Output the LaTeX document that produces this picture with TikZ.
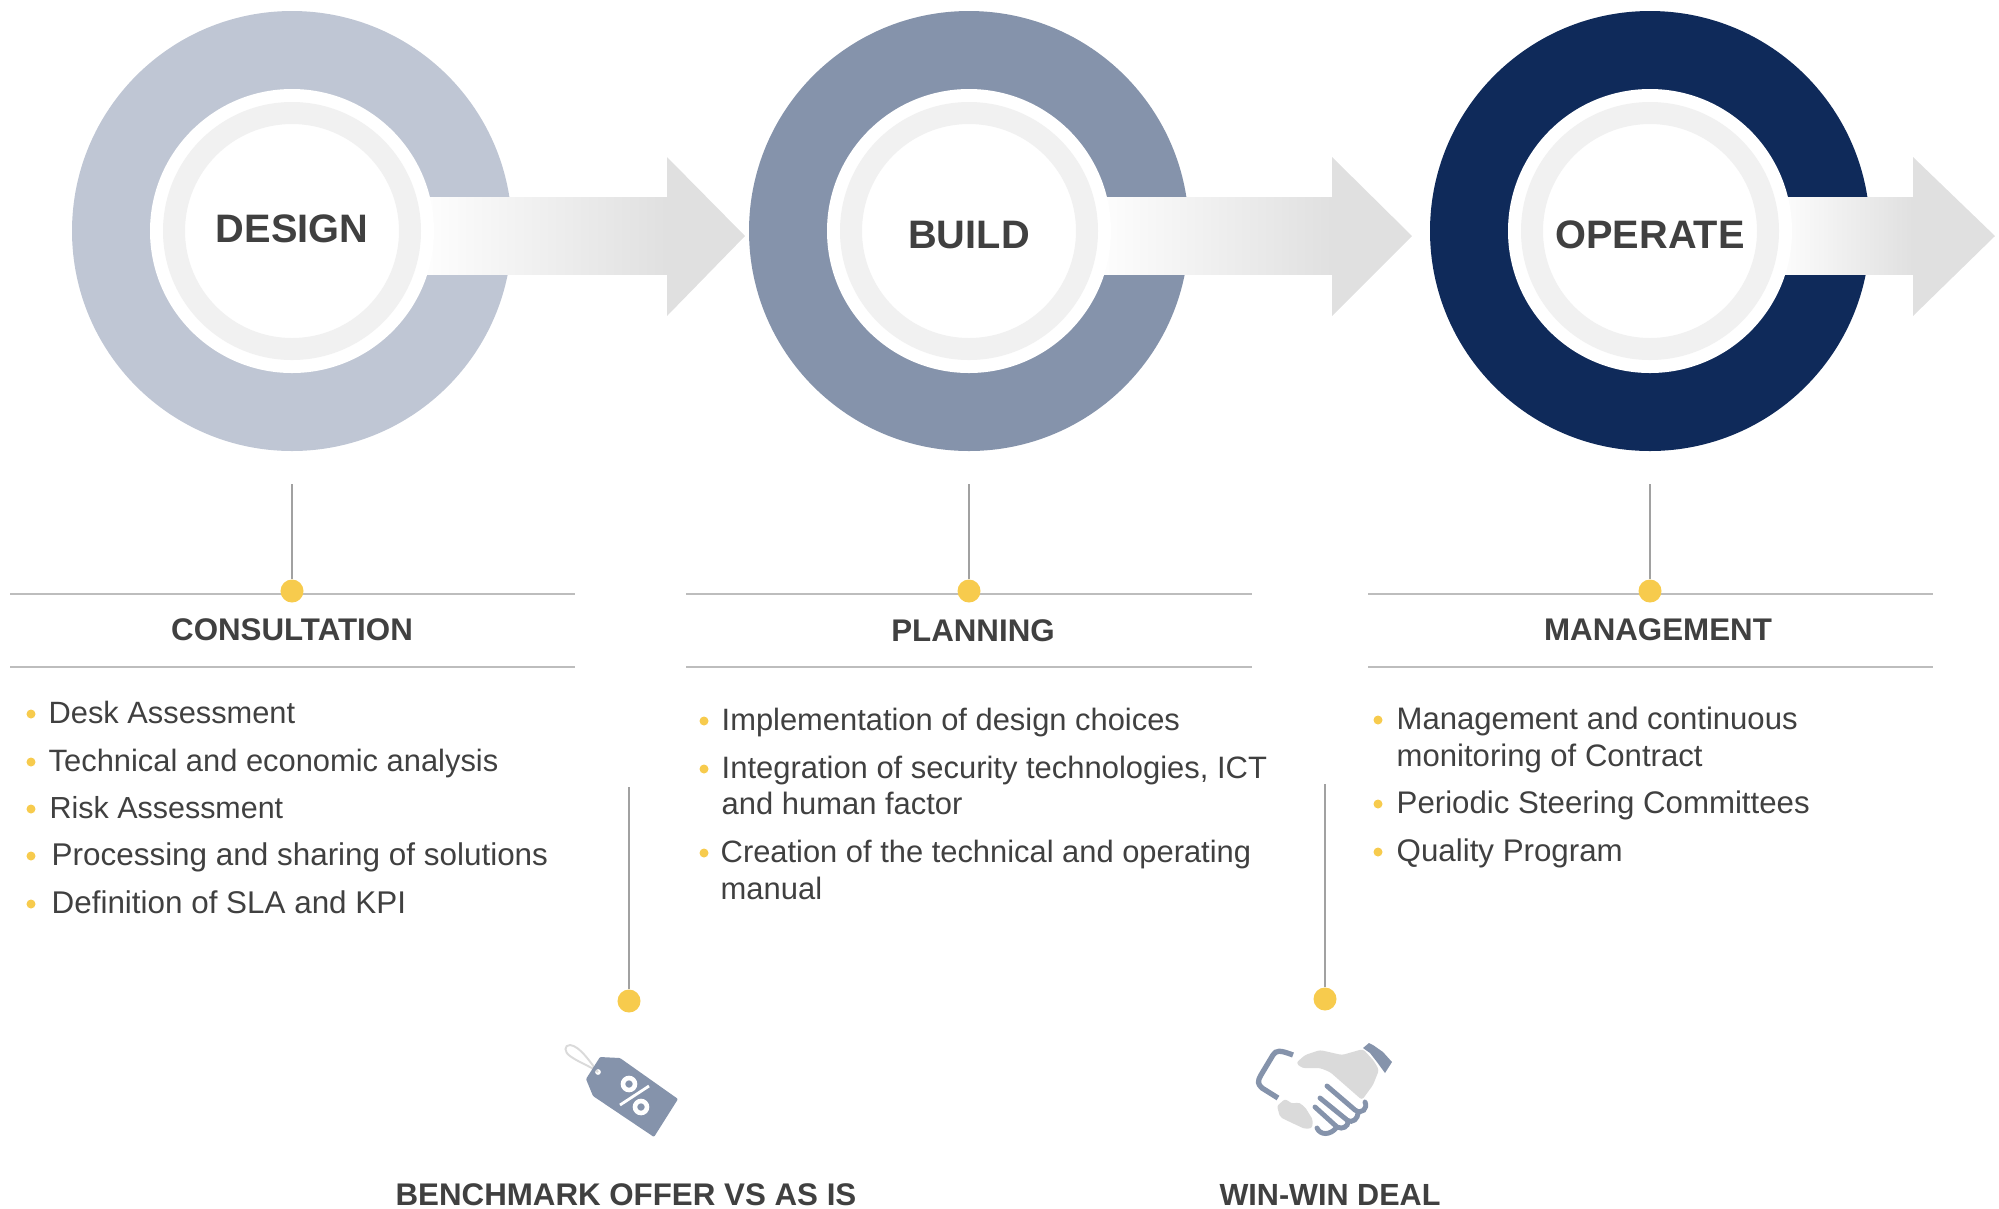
\documentclass[tikz,border=0pt]{standalone}
\usepackage{fontspec}
\setmainfont{Liberation Sans}
\definecolor{ringa}{HTML}{BFC6D4}
\definecolor{ringb}{HTML}{8593AB}
\definecolor{ringc}{HTML}{0F2A5A}
\definecolor{gold}{HTML}{F7CB4D}
\definecolor{ink}{HTML}{404040}
\definecolor{arrowgray}{HTML}{E0E0E0}
\definecolor{softgray}{HTML}{F1F1F1}
\definecolor{rulegray}{HTML}{BDBDBD}
\definecolor{iconblue}{HTML}{8593AB}
\definecolor{icongray}{HTML}{DADADA}
\tikzset{
 stagetext/.style={font=\fontsize{11.3}{13}\selectfont\bfseries, text=ink, inner sep=0pt},
 headtext/.style={font=\fontsize{8.9}{10}\selectfont\bfseries, text=ink, inner sep=0pt},
 itemtext/.style={text=ink, inner sep=0pt, anchor=west, text height=.72em, text depth=.2em},
 golddot/.style={circle, fill=gold, inner sep=0pt, minimum size=.23cm},
 itemdot/.style={circle, fill=gold, inner sep=0pt, minimum size=.09cm},
 stem/.style={draw=rulegray!85!black, line width=.45pt},
 rulerline/.style={draw=rulegray, line width=.6pt},
}
\begin{document}
\begin{tikzpicture}[x=.01cm,y=-.01cm]
 \useasboundingbox (0,0) rectangle (1999,1208);
 \foreach \cx/\tail/\base/\tip/\col in {292/412/667/745/ringa, 969/1089/1332/1412/ringb, 1650/1770/1913/1995/ringc}
 {
     \fill[\col] (\cx,231) circle (220);
     \shade[left color=white, right color=arrowgray, draw=none] (\tail,197) rectangle (\base,274);
     \fill[arrowgray] (\base,157)--(\tip,236)--(\base,316)--cycle;
     \fill[white] (\cx,231) circle (142);
     \fill[softgray, even odd rule] (\cx,231) circle (129) (\cx,231) circle (107);
 }
 \node[stagetext] (design) at (292,229) {DESIGN};
 \node[stagetext] (build) at (969,235) {BUILD};
 \node[stagetext] (operate) at (1650,235) {OPERATE};

 % columns
 \foreach \lx/\rx/\dx/\hx/\hy/\nm/\txt in {10/575/292/292/630/consult/CONSULTATION, 686/1252/969/973/631/plan/PLANNING, 1368/1933/1650/1658/630/manage/MANAGEMENT}
 {
     \draw[rulerline] (\lx,594)--(\rx,594);
     \draw[rulerline] (\lx,667)--(\rx,667);
     \coordinate (\nm top) at (\dx,484);
     \node[golddot] (\nm dot) at (\dx,591) {};
     \draw[stem] (\nm top)--(\nm dot);
     \node[headtext] (\nm) at (\hx,\hy) {\txt};
 }

 \foreach \n/\bx/\tx/\ty/\fs/\txt in {
  a/31/48/714/8.76/Desk Assessment,
  b/31/48/762/8.78/Technical and economic analysis,
  c/31/49/809/8.66/Risk Assessment,
  d/31/51/856/8.94/Processing and sharing of solutions,
  e/31/51/904/8.93/Definition of SLA and KPI,
  f/704/721/721/8.78/Implementation of design choices,
  g/704/721/769/8.8/Integration of security technologies{,} ICT,
  h/704/720/853/8.78/Creation of the technical and operating,
  i/1378/1396/720/8.84/Management and continuous,
  j/1378/1396/804/8.88/Periodic Steering Committees,
  k/1378/1396/852/8.9/Quality Program}
 {
     \node[itemdot] (dot\n) at (\bx,\ty) {};
     \node[itemtext, font=\fontsize{\fs}{10}\selectfont] (item\n) at (\tx,\ty) {\txt};
 }
 \node[itemtext, font=\fontsize{8.8}{10}\selectfont] (itemg2) at (721,805) {and human factor};
 \node[itemtext, font=\fontsize{8.8}{10}\selectfont] (itemh2) at (720,890) {manual};
 \node[itemtext, font=\fontsize{8.84}{10}\selectfont] (itemi2) at (1396,757) {monitoring of Contract};

 % bottom part
 \coordinate (offertop) at (629,787);
 \node[golddot] (offerdot) at (629,1001) {};
 \draw[stem] (offertop)--(offerdot);
 \coordinate (dealtop) at (1325,784);
 \node[golddot] (dealdot) at (1325,999) {};
 \draw[stem] (dealtop)--(dealdot);
 \node[headtext] (offer) at (626,1195) {BENCHMARK OFFER VS AS IS};
 \node[headtext, font=\fontsize{8.7}{10}\selectfont\bfseries] (deal) at (1330,1195) {WIN-WIN DEAL};

 % tag
 \draw[icongray, line width=.55pt] (598,1072)..controls (590,1062) and (580,1046) .. (570,1045)..controls (564,1045) and (564,1052) .. (570,1056)..controls (578,1062) and (590,1066) .. (598,1072);
 \fill[iconblue, even odd rule, rounded corners=.3pt] (600,1057)--(620,1058)--(678,1099)--(654,1137)--(593,1096)--(586,1079)--cycle (598,1072) circle (3);
 \draw[white, line width=1.3pt] (629,1084) circle (6);
 \draw[white, line width=1.3pt] (641,1107) circle (6);
 \draw[white, line width=.8pt] (649,1086)--(620,1105);

 % handshake
 \fill[icongray, rounded corners=.8pt] (1296,1063)--(1305,1055)--(1320,1050)--(1342,1055)--(1363,1049)--(1374,1061)--(1379,1070)--(1373,1085)--(1362,1100)--(1330,1072)--(1320,1068)--(1302,1068)--cycle;
 \fill[icongray, rounded corners=.6pt] (1277,1106)--(1285,1099)--(1293,1104)--(1298,1102)--(1305,1107)--(1313,1120)--(1312,1128)--(1305,1129)--(1290,1122)--(1280,1117)--cycle;
 \draw[iconblue, line width=1.5pt] (1293,1055)..controls (1280,1050) and (1276,1050) .. (1273,1055)--(1261,1075)..controls (1257,1082) and (1258,1084) .. (1262,1088)--(1278,1098);
 \fill[iconblue] (1369,1043)--(1373,1045)--(1383,1052)--(1392,1062)--(1385,1073)--(1377,1062)--(1370,1053)--(1363,1048)--cycle;
 \draw[iconblue, line width=1.4pt, line cap=round] (1327,1086)--(1355,1110)..controls (1362,1115) and (1368,1108) .. (1365,1102);
 \draw[iconblue, line width=1.4pt, line cap=round] (1320,1098)--(1347,1120)..controls (1353,1124) and (1358,1118) .. (1358,1113);
 \draw[iconblue, line width=1.4pt, line cap=round] (1315,1107)--(1337,1127)..controls (1343,1130) and (1348,1126) .. (1348,1122);
 \draw[iconblue, line width=1.4pt, line cap=round] (1317,1128)..controls (1320,1135) and (1330,1136) .. (1337,1127);
\end{tikzpicture}
\end{document}
